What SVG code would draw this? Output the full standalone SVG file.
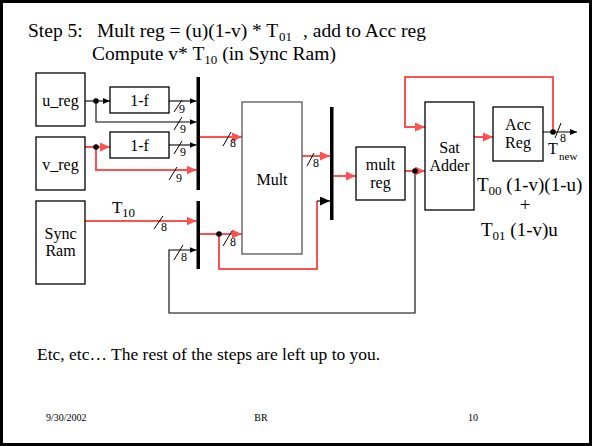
<svg xmlns="http://www.w3.org/2000/svg" width="592" height="446" viewBox="0 0 592 446">
<style>
text{font-family:"Liberation Serif","Times New Roman",serif;fill:#000}
.lbl{font-size:16px;text-anchor:middle}
.box{fill:#fff;stroke:#000;stroke-width:1.3}
.red{stroke:#ff5050;stroke-width:2;fill:none}
.blk{stroke:#000;stroke-width:1.1;fill:none}
.sl{stroke:#000;stroke-width:1}
.w{font-size:12px}
.big{font-size:19.5px}
</style>
<defs>
<marker id="ar" markerUnits="userSpaceOnUse" markerWidth="10" markerHeight="9" refX="10" refY="4.5" orient="auto"><path d="M0,0 L10,4.5 L0,9 z" fill="#ff5050"/></marker>
<marker id="ab" markerUnits="userSpaceOnUse" markerWidth="7" markerHeight="6" refX="7" refY="3" orient="auto"><path d="M0,0 L7,3 L0,6 z" fill="#000"/></marker>
<marker id="abb" markerUnits="userSpaceOnUse" markerWidth="10" markerHeight="9" refX="10" refY="4.5" orient="auto"><path d="M0,0 L10,4.5 L0,9 z" fill="#000"/></marker>
</defs>
<rect x="1.5" y="1.5" width="589" height="443" fill="#fff" stroke="#000" stroke-width="3"/>
<text class="big" x="28" y="37">Step 5:</text>
<text class="big" x="97" y="37">Mult reg = (u)(1-v) * T</text>
<text x="279" y="41" font-size="13">01</text>
<text class="big" x="303" y="37">, add to Acc reg</text>
<text class="big" x="92" y="60">Compute v* T<tspan font-size="13" dy="4">10</tspan><tspan dy="-4"> (in Sync Ram)</tspan></text>

<g id="connectors">
<path class="blk" d="M85,101 H110" marker-end="url(#ab)"/>
<path class="blk" d="M96,101 V122 H196.5" marker-end="url(#ab)"/>
<path class="blk" d="M169,101 H196.5" marker-end="url(#ab)"/>
<path class="red" d="M85,147 H110" marker-end="url(#ar)"/>
<path class="red" d="M96,147 V170 H196.5" marker-end="url(#ar)"/>
<path class="blk" d="M169,145 H196.5" marker-end="url(#ab)"/>
<path class="red" d="M200,137 H242" marker-end="url(#ar)"/>
<path class="red" d="M85,221 H196.5" marker-end="url(#ar)"/>
<path class="red" d="M200,234 H242" marker-end="url(#ar)"/>
<path class="red" d="M219,234 V269 H317 V201"/>
<path class="blk" d="M317,201 H330" marker-end="url(#abb)" stroke-width="1.5"/>
<path class="blk" d="M415,171 V313 H169 V250 H196.5" marker-end="url(#ab)"/>
<path class="red" d="M302,156 H330" marker-end="url(#ar)"/>
<path class="red" d="M333.5,176 H356" marker-end="url(#ar)"/>
<path class="red" d="M405,171 H425" marker-end="url(#ar)"/>
<path class="red" d="M474,137 H493" marker-end="url(#ar)"/>
<path class="blk" d="M543,132 H577" marker-end="url(#ab)"/>
<path class="red" d="M553,132 V77 H405 V127 H425" marker-end="url(#ar)"/>
<circle cx="96" cy="101" r="2.8"/>
<circle cx="96" cy="147" r="2.8"/>
<circle cx="219" cy="234" r="2.8"/>
<circle cx="415" cy="171" r="2.8"/>
<circle cx="553" cy="132" r="2.8"/>
<rect x="196.5" y="77" width="3.5" height="113"/>
<rect x="196.5" y="201" width="3.5" height="68"/>
<rect x="330" y="107" width="3.5" height="113"/>
<line class="sl" x1="174" y1="112" x2="182" y2="100"/><text class="w" x="179" y="113">9</text>
<line class="sl" x1="174" y1="130" x2="182" y2="117"/><text class="w" x="180" y="133">9</text>
<line class="sl" x1="174" y1="154" x2="182" y2="141"/><text class="w" x="180" y="156">9</text>
<line class="sl" x1="169" y1="180" x2="177" y2="167"/><text class="w" x="176" y="182">9</text>
<line class="sl" x1="223" y1="146" x2="231" y2="132"/><text class="w" x="230" y="147">8</text>
<line class="sl" x1="307" y1="166" x2="314" y2="153"/><text class="w" x="313" y="167">8</text>
<line class="sl" x1="154" y1="229" x2="163" y2="216"/><text class="w" x="161" y="231">8</text>
<line class="sl" x1="223" y1="246" x2="232" y2="231"/><text class="w" x="230" y="246">8</text>
<line class="sl" x1="174" y1="260" x2="183" y2="245"/><text class="w" x="181" y="261">8</text>
<line class="sl" x1="555" y1="138" x2="561" y2="123"/><text class="w" x="560" y="142">8</text>
</g>

<g id="u_reg"><rect class="box" x="36" y="73" width="49" height="53"/><text class="lbl" x="60.5" y="106">u_reg</text></g>
<g id="v_reg"><rect class="box" x="36" y="137" width="49" height="53"/><text class="lbl" x="60.5" y="170">v_reg</text></g>
<g id="sync_ram"><rect class="box" x="36" y="201" width="49" height="83"/><text class="lbl" x="60.5" y="239">Sync</text><text class="lbl" x="60.5" y="256">Ram</text></g>
<g id="onef1"><rect class="box" x="110" y="87" width="59" height="26"/><text class="lbl" x="139.5" y="106">1-f</text></g>
<g id="onef2"><rect class="box" x="110" y="132" width="59" height="26"/><text class="lbl" x="139.5" y="151">1-f</text></g>
<g id="mult"><rect class="box" x="242" y="102" width="60" height="152" style="stroke:#555"/><text class="lbl" x="272" y="185">Mult</text></g>
<g id="mult_reg"><rect class="box" x="356" y="147" width="49" height="53"/><text class="lbl" x="380.5" y="170">mult</text><text class="lbl" x="380.5" y="188">reg</text></g>
<g id="sat_adder"><rect class="box" x="425" y="102" width="49" height="108"/><text class="lbl" x="449.5" y="153">Sat</text><text class="lbl" x="449.5" y="171">Adder</text></g>
<g id="acc_reg"><rect class="box" x="493" y="107" width="50" height="54"/><text class="lbl" x="518" y="130">Acc</text><text class="lbl" x="518" y="148">Reg</text></g>

<text x="112" y="213" font-size="17">T</text><text x="122" y="217" font-size="13">10</text>
<text x="548" y="154" font-size="16">T</text><text x="559" y="160" font-size="11">new</text>
<text x="477" y="191" font-size="19">T<tspan font-size="13" dy="4">00</tspan><tspan dy="-4"> (1-v)(1-u)</tspan></text>
<text x="525" y="211" font-size="19" text-anchor="middle">+</text>
<text x="481" y="236" font-size="19">T<tspan font-size="13" dy="4">01</tspan><tspan dy="-4"> (1-v)u</tspan></text>

<text x="37" y="360" font-size="17.5">Etc, etc… The rest of the steps are left up to you.</text>
<text x="46" y="421" font-size="10">9/30/2002</text>
<text x="261" y="421" font-size="10" text-anchor="middle">BR</text>
<text x="478" y="421" font-size="10" text-anchor="end">10</text>
</svg>
